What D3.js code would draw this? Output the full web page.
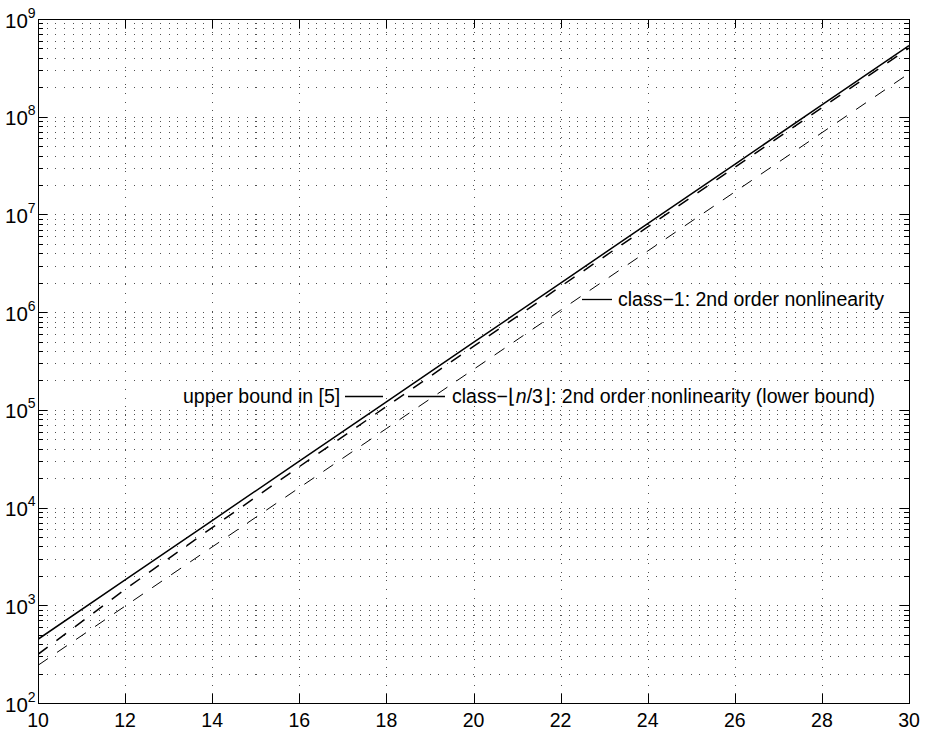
<!DOCTYPE html>
<html><head><meta charset="utf-8">
<script src="https://cdn.jsdelivr.net/npm/d3@7"></script>
<style>
html,body{margin:0;padding:0;background:#fff;}
text{font-family:"Liberation Sans",Arial,Helvetica,sans-serif;fill:#000;}
</style></head>
<body><svg id="chart" width="928" height="735"></svg>
<script>
// ---- data ----
const nValues = [10, 12, 14, 16, 18, 20, 22, 24, 26, 28, 30];
const upperBound = [449, 1820, 7370, 29850, 120800, 489700, 1986000, 8040000, 32600000, 132000000, 535000000];
const classFloorN3 = [315, 1455, 6240, 26230, 108100, 445700, 1829000, 7450000, 30400000, 123700000, 504000000];
const class1 = [243, 981, 3955, 15960, 64300, 259400, 1047000, 4220000, 17000000, 68600000, 277000000];
const xTicks = [10, 12, 14, 16, 18, 20, 22, 24, 26, 28, 30];
const yExponents = [2, 3, 4, 5, 6, 7, 8, 9];

const svg = d3.select("#chart");
const L = 38, R = 909, T = 19, B = 703;
const x = d3.scaleLinear().domain([10, 30]).range([L, R]);
const y = d3.scaleLog().domain([1e2, 1e9]).range([B, T]);

// grid
const grid = svg.append("g").attr("stroke", "#505050").attr("stroke-width", 1)
  .attr("stroke-dasharray", "1 7.7").attr("shape-rendering", "crispEdges");
xTicks.slice(1, -1).forEach(v => {
  grid.append("line").attr("x1", Math.round(x(v)) + 0.5).attr("x2", Math.round(x(v)) + 0.5)
    .attr("y1", B).attr("y2", T);
});
const yMinor = [];
for (let e = 2; e < 9; e++) for (let m = 1; m <= 9; m++) { if (e === 2 && m === 1) continue; yMinor.push(m * Math.pow(10, e)); }
yMinor.forEach(v => {
  grid.append("line").attr("x1", L).attr("x2", R)
    .attr("y1", Math.round(y(v)) + 0.5).attr("y2", Math.round(y(v)) + 0.5);
});

// axes with inward ticks on all four sides
const ax = svg.append("g").attr("stroke", "#000").attr("stroke-width", 1).attr("shape-rendering", "crispEdges");
xTicks.forEach(v => {
  const px = Math.round(x(v)) + 0.5;
  ax.append("line").attr("x1", px).attr("x2", px).attr("y1", B).attr("y2", B - 9);
  ax.append("line").attr("x1", px).attr("x2", px).attr("y1", T).attr("y2", T + 9);
});
yMinor.concat([1e2, 1e9]).forEach(v => {
  const py = Math.round(y(v)) + 0.5;
  const isMajor = Math.abs(Math.log10(v) - Math.round(Math.log10(v))) < 1e-9;
  const len = isMajor ? 9 : 5;
  ax.append("line").attr("x1", L).attr("x2", L + len).attr("y1", py).attr("y2", py);
  ax.append("line").attr("x1", R).attr("x2", R - len).attr("y1", py).attr("y2", py);
});
ax.append("rect").attr("x", L + 0.5).attr("y", T + 0.5).attr("width", R - L).attr("height", B - T)
  .attr("fill", "none");

// tick labels
svg.append("g").selectAll("text").data(xTicks).join("text")
  .attr("x", d => x(d)).attr("y", 727).attr("text-anchor", "middle")
  .attr("font-size", 19.5).text(d => d);
const yl = svg.append("g").selectAll("text").data(yExponents).join("text")
  .attr("x", 5).attr("y", d => y(Math.pow(10, d)) + 8.5).attr("text-anchor", "start")
  .attr("font-size", 20.5);
yl.append("tspan").text("10");
yl.append("tspan").attr("font-size", 14).attr("dy", -10).text(d => d);

// lines
svg.append("clipPath").attr("id", "clip").append("rect")
  .attr("x", L).attr("y", T).attr("width", R - L).attr("height", B - T);
const line = d3.line().x(d => x(d[0])).y(d => y(d[1]));
const plot = svg.append("g").attr("clip-path", "url(#clip)").attr("fill", "none").attr("stroke", "#000");
plot.append("path").datum(d3.zip(nValues, class1)).attr("d", line)
  .attr("stroke-width", 1).attr("stroke-dasharray", "12 11");
plot.append("path").datum(d3.zip(nValues, classFloorN3)).attr("d", line)
  .attr("stroke-width", 1.5).attr("stroke-dasharray", "12 11");
plot.append("path").datum(d3.zip(nValues, upperBound)).attr("d", line)
  .attr("stroke-width", 1.5);

// annotations
const ann = svg.append("g").attr("font-size", 19.5);
ann.append("text").attr("x", 183).attr("y", 403).text("upper bound in [5]");
ann.append("line").attr("x1", 345).attr("x2", 383).attr("y1", 396.5).attr("y2", 396.5).attr("stroke", "#000").attr("stroke-width", 1.3);
ann.append("line").attr("x1", 408).attr("x2", 445).attr("y1", 396.5).attr("y2", 396.5).attr("stroke", "#000").attr("stroke-width", 1.3);
const t2 = ann.append("text").attr("x", 452).attr("y", 403);
t2.append("tspan").text("class\u2212\u230A");
t2.append("tspan").attr("font-style", "italic").text("n");
t2.append("tspan").text("/3\u230B: 2nd order nonlinearity (lower bound)");
ann.append("line").attr("x1", 582).attr("x2", 612).attr("y1", 299.5).attr("y2", 299.5).attr("stroke", "#000").attr("stroke-width", 1.3);
ann.append("text").attr("x", 618).attr("y", 306).text("class\u22121: 2nd order nonlinearity");
</script></body></html>
